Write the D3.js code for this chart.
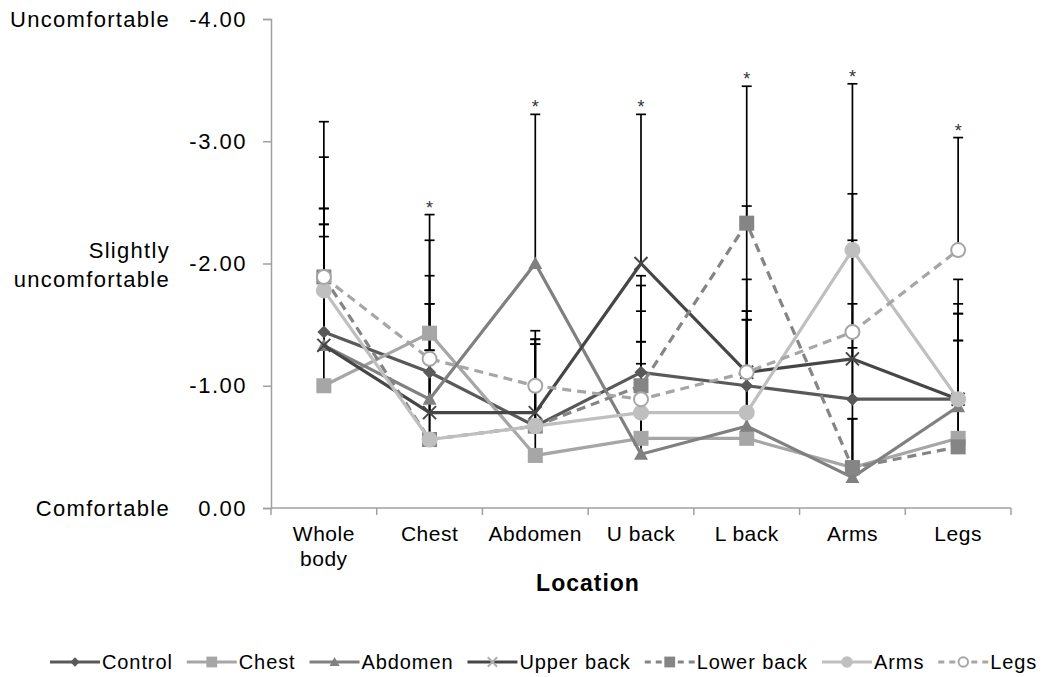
<!DOCTYPE html>
<html>
<head>
<meta charset="utf-8">
<script src="https://cdn.jsdelivr.net/npm/d3@7"></script>
<style>
  html, body { margin: 0; padding: 0; background: #fff; }
  svg { display: block; font-family: "Liberation Sans", Arial, sans-serif; }
</style>
</head>
<body>
<div id="chart"></div>
<script>
const categories = ['Whole body', 'Chest', 'Abdomen', 'U back', 'L back', 'Arms', 'Legs'];
const seriesNames = ['Control', 'Chest', 'Abdomen', 'Upper back', 'Lower back', 'Arms', 'Legs'];

// mean scores per location, one array per condition
const controlMeans = [-1.44, -1.11, -0.67, -1.11, -1.00, -0.89, -0.89];
const chestMeans = [-1.00, -1.43, -0.43, -0.57, -0.57, -0.33, -0.57];
const abdomenMeans = [-1.33, -0.89, -2.00, -0.44, -0.67, -0.25, -0.83];
const upperBackMeans = [-1.33, -0.78, -0.78, -2.00, -1.11, -1.22, -0.89];
const lowerBackMeans = [-1.89, -0.56, -0.67, -1.00, -2.33, -0.33, -0.50];
const armsMeans = [-1.78, -0.56, -0.67, -0.78, -0.78, -2.11, -0.89];
const legsMeans = [-1.89, -1.22, -1.00, -0.89, -1.11, -1.44, -2.11];

// standard deviations (bars drawn towards "uncomfortable")
const controlSD = [0.88, 0.79, 0.67, 0.79, 0.87, 0.78, 0.78];
const chestSD = [1.32, 0.97, 0.56, 0.61, 1.04, 0.40, 0.80];
const abdomenSD = [1.12, 0.78, 1.22, 0.92, 0.87, 0.48, 0.54];
const upperBackSD = [0.89, 0.51, 0.60, 1.22, 0.50, 0.97, 0.70];
const lowerBackSD = [0.98, 1.11, 0.71, 0.82, 1.12, 0.98, 1.09];
const armsSD = [0.67, 0.73, 0.67, 0.58, 0.76, 1.36, 0.98];
const legsSD = [1.27, 0.97, 0.45, 0.72, 1.36, 1.13, 0.92];

const significant = [false, true, true, true, true, true, true];

const yTicks = [0, -1, -2, -3, -4];
const comfortValues = [-4, -2, 0];
const comfortLabels = [['Uncomfortable'], ['Slightly', 'uncomfortable'], ['Comfortable']];

const means = [controlMeans, chestMeans, abdomenMeans, upperBackMeans, lowerBackMeans, armsMeans, legsMeans];
const sds = [controlSD, chestSD, abdomenSD, upperBackSD, lowerBackSD, armsSD, legsSD];

const styles = [
  { color: '#595959', dash: null, marker: 'diamond', fill: '#595959' },
  { color: '#a6a6a6', dash: null, marker: 'square', fill: '#a6a6a6' },
  { color: '#808080', dash: null, marker: 'triangle', fill: '#808080' },
  { color: '#464646', dash: null, marker: 'x', fill: '#464646' },
  { color: '#858585', dash: '9,6', marker: 'square', fill: '#858585' },
  { color: '#bfbfbf', dash: null, marker: 'circle', fill: '#bfbfbf' },
  { color: '#a6a6a6', dash: '9,6', marker: 'open', fill: '#fff' },
];

const W = 1055;
const H = 677;
const svg = d3.select('#chart').append('svg').attr('width', W).attr('height', H);

const x = d3.scaleBand().domain(categories).range([271, 1011]);
const y = d3.scaleLinear().domain([0, -4]).range([508, 19]);
const cx = (i) => x(categories[i]) + x.bandwidth() / 2;

// axes
const yAxis = svg.append('g').attr('transform', 'translate(271,0)')
  .call(d3.axisLeft(y).tickValues(yTicks).tickSize(8).tickPadding(16).tickFormat((d) => d.toFixed(2)));
yAxis.select('.domain').attr('stroke', '#a0a0a0').attr('stroke-width', 1.5);
yAxis.selectAll('.tick line').attr('stroke', '#a0a0a0').attr('stroke-width', 1.5);
yAxis.selectAll('.tick text').attr('font-size', 22).attr('letter-spacing', 1.5).attr('fill', '#000')
  .attr('font-family', '"Liberation Sans", Arial, sans-serif');

const xAxisG = svg.append('g').attr('transform', 'translate(0,508)');
xAxisG.append('line').attr('x1', 271).attr('x2', 1011).attr('stroke', '#a0a0a0').attr('stroke-width', 1.5);
xAxisG.selectAll('line.tk').data(d3.range(categories.length + 1)).join('line')
  .attr('class', 'tk')
  .attr('x1', (i) => 271 + i * x.step()).attr('x2', (i) => 271 + i * x.step())
  .attr('y1', 0).attr('y2', 7)
  .attr('stroke', '#a0a0a0').attr('stroke-width', 1.5);

categories.forEach((c, i) => {
  const words = c === 'Whole body' ? ['Whole', 'body'] : [c];
  const t = xAxisG.append('text').attr('text-anchor', 'middle').attr('font-size', 21)
    .attr('letter-spacing', 0.5).attr('fill', '#000');
  words.forEach((w, k) => t.append('tspan').attr('x', cx(i)).attr('y', 33 + k * 25).text(w));
});

svg.append('text').attr('x', 588).attr('y', 591).attr('text-anchor', 'middle')
  .attr('font-size', 23).attr('font-weight', 700).attr('letter-spacing', 1).text('Location');

// comfort captions
comfortValues.forEach((v, i) => {
  const lines = comfortLabels[i];
  const t = svg.append('text').attr('text-anchor', 'end').attr('font-size', 22)
    .attr('letter-spacing', 1.3).attr('fill', '#000');
  lines.forEach((l, k) => t.append('tspan').attr('x', 170)
    .attr('y', y(v) + 8 - (lines.length - 1) * 14 + k * 29).text(l));
});

// error bars
const bars = svg.append('g');
means.forEach((arr, s) => {
  arr.forEach((m, i) => {
    const top = m - sds[s][i];
    bars.append('line').attr('x1', cx(i)).attr('x2', cx(i)).attr('y1', y(m)).attr('y2', y(top))
      .attr('stroke', '#000').attr('stroke-width', 1.7);
    bars.append('line').attr('x1', cx(i) - 5).attr('x2', cx(i) + 5).attr('y1', y(top)).attr('y2', y(top))
      .attr('stroke', '#000').attr('stroke-width', 1.7);
  });
});

// asterisks
significant.forEach((sig, i) => {
  if (!sig) return;
  const top = d3.min(means.map((arr, s) => arr[i] - sds[s][i]));
  svg.append('text').attr('x', cx(i)).attr('y', y(top) - 1).attr('text-anchor', 'middle')
    .attr('font-size', 18).attr('fill', '#333').text('*');
});

function drawMarker(g, kind, st, size) {
  const r = size / 2;
  if (kind === 'diamond') {
    g.append('path').attr('d', `M0,${-r} L${r},0 L0,${r} L${-r},0 Z`).attr('fill', st.fill);
  } else if (kind === 'square') {
    g.append('rect').attr('x', -r).attr('y', -r).attr('width', size).attr('height', size).attr('fill', st.fill);
  } else if (kind === 'triangle') {
    g.append('path').attr('d', `M0,${-r} L${r},${r * 0.8} L${-r},${r * 0.8} Z`).attr('fill', st.fill);
  } else if (kind === 'x') {
    g.append('path').attr('d', `M${-r},${-r} L${r},${r} M${-r},${r} L${r},${-r}`)
      .attr('stroke', st.fill).attr('stroke-width', 2);
  } else if (kind === 'circle') {
    g.append('circle').attr('r', r).attr('fill', st.fill);
  } else if (kind === 'open') {
    g.append('circle').attr('r', r - 1).attr('fill', '#fff').attr('stroke', st.color).attr('stroke-width', 2);
  }
}

const markerSize = { diamond: 13, square: 15, triangle: 14, x: 13, circle: 16, open: 16 };

// series lines and markers
const line = d3.line().x((d, i) => cx(i)).y((d) => y(d));
means.forEach((arr, s) => {
  const st = styles[s];
  svg.append('path').attr('d', line(arr)).attr('fill', 'none')
    .attr('stroke', st.color).attr('stroke-width', 3.2)
    .attr('stroke-dasharray', st.dash);
  arr.forEach((m, i) => {
    const g = svg.append('g').attr('transform', `translate(${cx(i)},${y(m)})`);
    drawMarker(g, st.marker, st, markerSize[st.marker]);
  });
});

// legend
const legend = svg.append('g').attr('transform', 'translate(50,662)');
let lx = 0;
seriesNames.forEach((name, s) => {
  const st = styles[s];
  const g = legend.append('g').attr('transform', `translate(${lx},0)`);
  g.append('line').attr('x1', 0).attr('x2', 50).attr('stroke', st.color).attr('stroke-width', 3)
    .attr('stroke-dasharray', st.dash ? '6,5' : null);
  const mg = g.append('g').attr('transform', 'translate(25,0)');
  const lst = s === 3 ? { ...st, fill: '#b0b0b0' } : st;
  drawMarker(mg, st.marker, lst, markerSize[st.marker] * 0.72);
  const t = g.append('text').attr('x', 52).attr('y', 7).attr('font-size', 20)
    .attr('letter-spacing', 0.9).attr('fill', '#000').text(name);
  lx += 52 + t.node().getComputedTextLength() + 14;
});
</script>
</body>
</html>
